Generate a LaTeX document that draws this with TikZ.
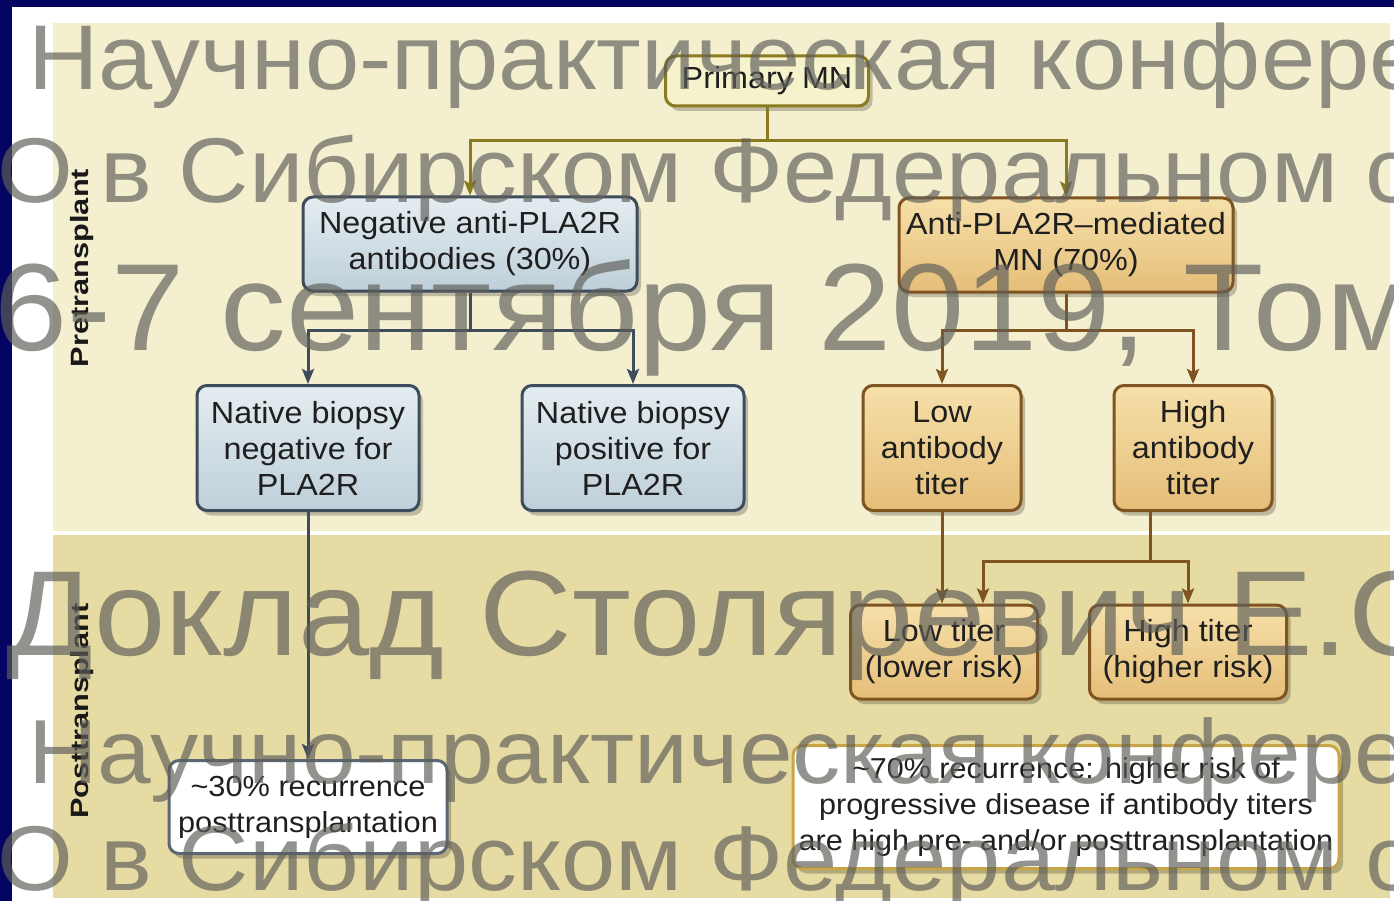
\documentclass[tikz,border=0pt]{standalone}
\usepackage{fontspec}
\setmainfont{Liberation Sans}[FakeStretch=1.06]
\usepackage{graphicx}
\usetikzlibrary{positioning, arrows.meta, shadows}
\definecolor{mnnavy}{RGB}{4,4,98}
\definecolor{mnpale}{RGB}{243,239,207}
\definecolor{mntan}{RGB}{229,219,163}
\definecolor{mnslate}{RGB}{62,76,92}
\definecolor{mnolive}{RGB}{138,122,32}
\definecolor{mnbrown}{RGB}{128,84,32}
\definecolor{mngold}{RGB}{200,165,70}
\definecolor{mnmark}{RGB}{95,95,90}
\newcommand{\boxfont}{\fontsize{30.5}{36}\selectfont}
\newcommand{\lanefont}{\fontsize{25}{28}\selectfont\bfseries}
\newcommand{\markfont}[1]{\fontsize{#1}{#1}\selectfont}
\tikzset{
  >={Stealth[length=15pt, width=12pt, inset=3pt]},
  mn box/.style={rounded corners=10pt, line width=3pt, align=center, inner sep=2pt,
    font=\boxfont, text=black!88,
    drop shadow={shadow xshift=4pt, shadow yshift=-5pt, opacity=0.22, fill=black}},
  mn root/.style={mn box, draw=mnolive, fill={rgb,255:red,246;green,242;blue,204}},
  mn neg/.style={mn box, draw=mnslate, top color={rgb,255:red,228;green,237;blue,241},
    bottom color={rgb,255:red,190;green,207;blue,217}},
  mn pos/.style={mn box, draw=mnbrown, top color={rgb,255:red,246;green,224;blue,170},
    bottom color={rgb,255:red,229;green,190;blue,120}},
  mn out/.style={mn box, fill=white},
  mn edge/.style={line width=3pt},
  mn flow/.style={mn edge, ->},
  mn lane/.style={rotate=90, font=\lanefont, text=black!90, inner sep=0pt},
  mn mark/.style={text=mnmark, opacity=0.68, anchor=base west, inner sep=0pt},
}
\begin{document}
\begin{tikzpicture}[x=1pt, y=-1pt]
 \useasboundingbox (0,0) rectangle (1394,901);
 % slide frame and the two bands
 \fill[mnnavy] (0,0) rectangle (1394,901);
 \fill[white] (12,7) rectangle (1394,901);
 \fill[mnpale] (53,23) rectangle (1390,531);
 \fill[mntan] (53,535) rectangle (1390,898);
 \node[mn lane] (pre) at (82,268) {\scalebox{1.16}[1]{Pretransplant}};
 \node[mn lane] (post) at (82,711) {\scalebox{1.16}[1]{Posttransplant}};
 % boxes
 \node[mn root, minimum width=203pt, minimum height=50pt] (root) at (767,81) {Primary MN};
 \node[mn neg, minimum width=334pt, minimum height=94pt] (neg) at (470,244)
   {Negative anti-PLA2R\\antibodies (30\%)};
 \node[mn pos, minimum width=334pt, minimum height=94pt] (anti) at (1066,245)
   {Anti-PLA2R–mediated\\MN (70\%)};
 \node[mn neg, minimum width=222pt, minimum height=125pt] (nbneg) at (308,448)
   {Native biopsy\\negative for\\PLA2R};
 \node[mn neg, minimum width=222pt, minimum height=125pt] (nbpos) at (633,448)
   {Native biopsy\\positive for\\PLA2R};
 \node[mn pos, minimum width=158pt, minimum height=125pt] (lowab) at (942,448)
   {Low\\antibody\\titer};
 \node[mn pos, minimum width=158pt, minimum height=125pt] (highab) at (1193,448)
   {High\\antibody\\titer};
 \node[mn pos, minimum width=187pt, minimum height=94pt] (lowt) at (944,652)
   {Low titer\\(lower risk)};
 \node[mn pos, minimum width=197pt, minimum height=94pt] (hight) at (1188,652)
   {High titer\\(higher risk)};
 \node[mn out, draw=mnslate!85, minimum width=278pt, minimum height=93pt,
   font=\fontsize{29}{36}\selectfont] (res30) at (308,807)
   {\textasciitilde30\% recurrence\\posttransplantation};
 \node[mn out, draw=mngold, minimum width=546pt, minimum height=123pt,
   font=\fontsize{28.8}{36}\selectfont] (res70) at (1066,807)
   {\textasciitilde70\% recurrence: higher risk of\\progressive disease if antibody titers\\are high pre- and/or posttransplantation};
 % connectors
 \draw[mn edge, mnolive] (root.south) -- ++(0,33) coordinate (rootj);
 \draw[mn flow, mnolive] (rootj) -| (neg.north);
 \draw[mn flow, mnolive] (rootj) -| (anti.north);
 \draw[mn edge, mnslate] (neg.south) -- ++(0,38) coordinate (negj);
 \draw[mn flow, mnslate] (negj) -| (nbneg.north);
 \draw[mn flow, mnslate] (negj) -| (nbpos.north);
 \draw[mn edge, mnbrown] (anti.south) -- ++(0,37) coordinate (antij);
 \draw[mn flow, mnbrown] (antij) -| (lowab.north);
 \draw[mn flow, mnbrown] (antij) -| (highab.north);
 \draw[mn flow, mnslate] (nbneg.south) -- (res30.north);
 \draw[mn flow, mnbrown] (lowab.south) -- (lowab.south |- lowt.north);
 \draw[mn edge, mnbrown] ([xshift=-43pt]highab.south) -- ++(0,49) coordinate (highj);
 \draw[mn flow, mnbrown] (highj) -| ([xshift=39pt]lowt.north);
 \draw[mn flow, mnbrown] (highj) -| (hight.north);
 % watermark
 \begin{scope}
   \clip (0,0) rectangle (1394,901);
   \node[mn mark, font=\markfont{92}] (wm1) at (28,90) {Научно-практическая конфере};
   \node[mn mark, font=\markfont{92}] (wm2) at (-3,203) {О в Сибирском Федеральном с};
   \node[mn mark, font=\markfont{124}] (wm3) at (-6,350) {6-7 сентября 2019, Том};
   \node[mn mark, font=\markfont{121}] (wm4) at (6,655) {Доклад Столяревич Е.С};
   \node[mn mark, font=\markfont{91}] (wm5) at (28,783) {Научно-практическая конфере};
   \node[mn mark, font=\markfont{92}] (wm6) at (-3,890) {О в Сибирском Федеральном с};
 \end{scope}
\end{tikzpicture}
\end{document}
